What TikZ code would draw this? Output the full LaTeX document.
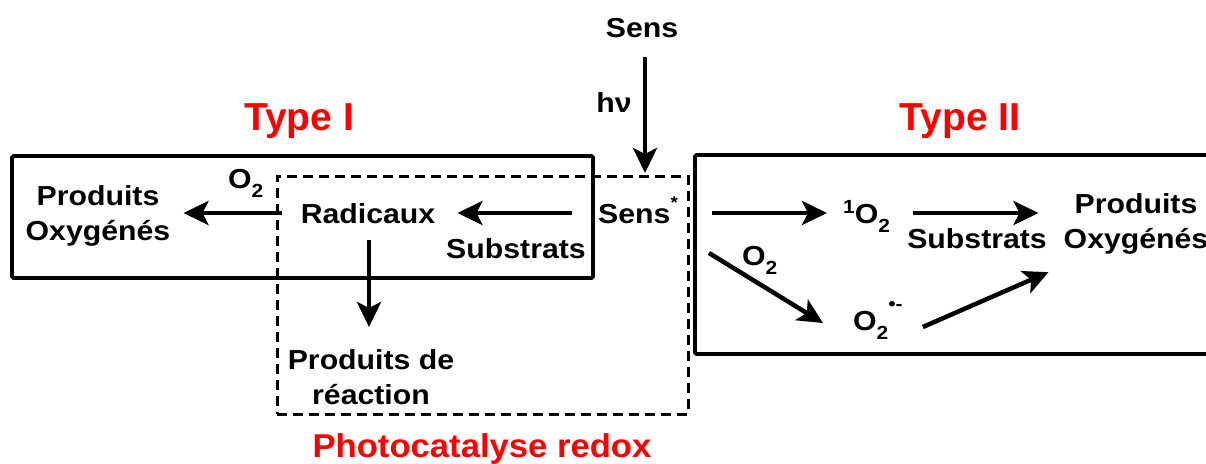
\documentclass[tikz,border=0pt]{standalone}
\usepackage{fontspec}
\setmainfont{Liberation Sans}[FakeStretch=1.1]
\newfontfamily\titlefont{Liberation Sans}
\newfontfamily\photofont{Liberation Sans}[FakeStretch=1.05]
\usetikzlibrary{arrows.meta}
\newcommand\mysub[1]{\raisebox{-9pt}{\fontsize{19pt}{19pt}\selectfont #1}}
\newcommand\mysup[2]{\raisebox{#1}{\fontsize{19pt}{19pt}\selectfont #2}}
\begin{document}
\begin{tikzpicture}[x=1pt,y=-1pt,
  txt/.style={inner sep=0pt, font=\fontsize{27.5pt}{35pt}\selectfont\bfseries},
  ttl/.style={inner sep=0pt, text=red, font=\titlefont\fontsize{39pt}{44pt}\selectfont\bfseries},
  solidbox/.style={draw, line width=3.8pt, inner sep=0pt, rounded corners=1.5pt},
  dashbox/.style={draw, line width=3pt, dash pattern=on 10pt off 6pt, inner sep=0pt},
  arr/.style={line width=4.5pt, -{Stealth[length=25pt,width=24pt,inset=6pt]}}]
\useasboundingbox (0,0) rectangle (1206,463);
\clip (0,0) rectangle (1206,463);

% boxes
\node[solidbox, minimum width=581pt, minimum height=122pt] (boxI) at (302.5,217) {};
\node[solidbox, minimum width=535pt, minimum height=199pt] (boxII) at (962.5,254.5) {};
\node[dashbox, minimum width=411pt, minimum height=238pt] (pc) at (482.5,295) {};

% titles
\node[ttl, anchor=base] (t1) at (299,130) {Type I};
\node[ttl, anchor=base] (t2) at (960,130) {Type II};
\node[ttl, font=\photofont\fontsize{33pt}{36pt}\selectfont\bfseries, anchor=base] (photo) at (482,457) {Photocatalyse redox};

% texts
\node[txt, anchor=base] (sens0) at (642,37) {Sens};
\node[txt, anchor=base] (hv) at (614,112) {hν};
\node[txt, anchor=base west] (senss) at (598,223) {Sens\raisebox{15pt}{\fontsize{17pt}{17pt}\selectfont *}};
\node[txt, anchor=base] (radic) at (368,223) {Radicaux};
\node[txt, anchor=base] (subL) at (516,258) {Substrats};
\node[txt, anchor=base west] (o2L) at (228,188) {O\mysub{2}};
\node[txt, align=center, anchor=north] (prodL) at (98,185) {Produits\\Oxygénés};
\node[txt, align=center, anchor=north] (prodR) at (371,349) {Produits de\\réaction};
\node[txt, anchor=base west] (o1) at (843,223) {\mysup{10pt}{1}O\mysub{2}};
\node[txt, anchor=base east] (subR) at (1047,248) {Substrats};
\node[txt, align=center, anchor=north] (prodOxR) at (1136,193) {Produits\\Oxygénés};
\node[txt, anchor=base west] (o2R) at (742,265) {O\mysub{2}};
\node[txt, anchor=base west] (o2m) at (853,330) {O\mysub{2}\mysup{20pt}{•-}};

% connectors
\draw[arr] ([xshift=3pt,yshift=-20pt]sens0.base) -- ([xshift=47pt,yshift=50pt]senss.base west);
\draw[arr] ([xshift=-26pt,yshift=10pt]senss.base west) -- ([xshift=22pt,yshift=10pt]radic.base east);
\draw[arr] ([xshift=-19pt,yshift=10pt]radic.base west) -- ([xshift=13pt,yshift=-28pt]prodL.north east);
\draw[arr] ([xshift=1pt,yshift=-17pt]radic.base) -- ([xshift=-2pt,yshift=22pt]prodR.north);
\draw[arr] ([xshift=34pt,yshift=10pt]senss.base east) -- ([xshift=-16pt,yshift=10pt]o1.base west);
\draw[arr] ([xshift=23pt,yshift=10pt]o1.base east) -- ([xshift=-25pt,yshift=-20pt]prodOxR.north west);
\draw[arr] ([xshift=31pt,yshift=-30pt]senss.base east) -- ([xshift=-30pt,yshift=7pt]o2m.base west);
\draw[arr] ([xshift=20pt,yshift=3pt]o2m.base east) -- ([xshift=-15pt,yshift=-18pt]prodOxR.south west);
\end{tikzpicture}
\end{document}
